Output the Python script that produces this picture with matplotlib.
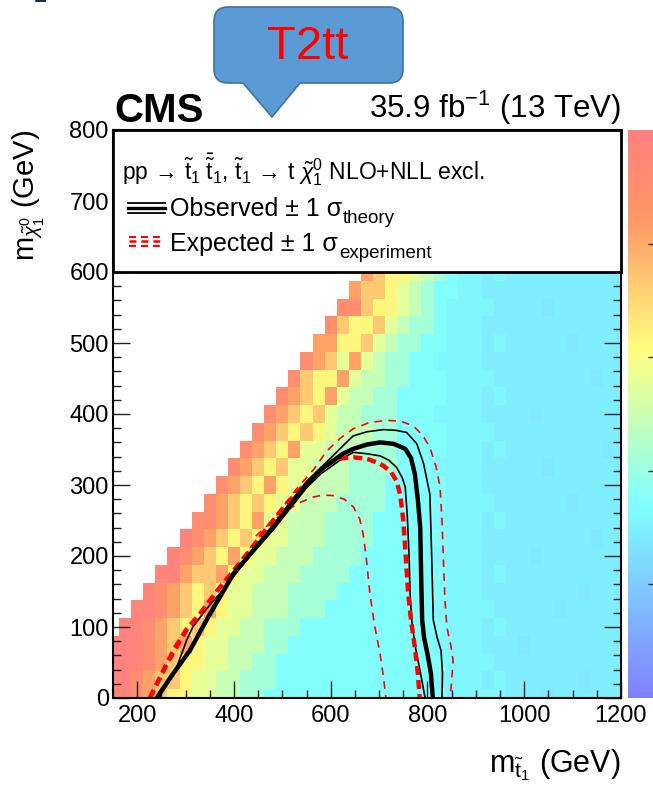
import numpy as np
import matplotlib
matplotlib.use("Agg")
import matplotlib.pyplot as plt
from matplotlib.colors import LinearSegmentedColormap, LogNorm
from matplotlib.patches import Rectangle, PathPatch
from matplotlib.path import Path
from matplotlib.ticker import MultipleLocator, FixedLocator
import matplotlib.cm as cm

plt.rcParams['font.family'] = ['Liberation Sans', 'DejaVu Sans']
plt.rcParams['mathtext.fontset'] = 'custom'
plt.rcParams['mathtext.rm'] = 'Liberation Sans'
plt.rcParams['mathtext.it'] = 'Liberation Sans:italic'
plt.rcParams['mathtext.bf'] = 'Liberation Sans:bold'
plt.rcParams['mathtext.sf'] = 'Liberation Sans'
plt.rcParams['lines.scale_dashes'] = False

# ---------------- data ----------------
STOP_MASS = np.arange(150, 1201, 25)   # bin centres (GeV)
LSP_MASS = np.arange(0, 601, 25)       # bin centres (GeV)

# 95% CL upper limit on the cross section (pb) for each colour code
LIMIT_PB = {'9': 71.0, '8': 33.5, '7': 12.6, '6': 4.7, '5': 1.4, '4': 0.6,
            '3': 0.28, '2': 0.126, '1': 0.053, '0': 0.038, 'a': 0.030, 'b': 0.025}

# one string per LSP-mass row (0 ... 600 GeV), one code per stop-mass column (150 ... 1200)
LIMIT_ROWS = [
    "99 8765 5443 3221 1111 1111 1111 1100 000a aaba aaaa a",
    "99 8766 5443 3222 1111 1111 1111 1000 0a0a aaaa abaa a",
    "99 9876 5544 3322 1111 1111 1111 1100 00aa aaaa aaaa a",
    "99 9876 7544 3332 2111 1111 1111 1000 0aaa baaa aaaa a",
    ".9 9876 5654 4332 2211 1111 1111 1100 0a0a aaaa aaaa a",
    ".. 9987 6575 4433 3222 1111 1111 1000 00aa aaab aaaa a",
    ".. .987 6565 4433 3222 2111 1111 1100 0aaa aaaa abaa a",
    ".. ..99 7667 5443 3322 2211 1111 1100 0a0a aaaa aaaa a",
    ".. ...9 8765 7544 3332 2221 1111 1000 0aaa abaa aaaa a",
    ".. .... 9876 5654 4333 2222 1111 1100 0aaa aaaa aaba a",
    ".. .... .887 6574 4333 2222 1111 1000 0a0a aaaa aaaa a",
    ".. .... ..87 6565 4433 3222 2111 1100 00aa aaaa baaa a",
    ".. .... ...8 7657 5443 3322 2111 1100 0aaa aaaa aaaa a",
    ".. .... .... 8765 6443 3322 2211 1000 0aaa aaba aaaa a",
    ".. .... .... .876 5744 3332 2211 1100 0a0a aaaa aaab a",
    ".. .... .... ..87 6565 4333 2211 1100 00aa aaaa aaaa a",
    ".. .... .... ...8 7656 4332 2211 1000 0aaa abaa aaaa a",
    ".. .... .... .... 8765 7433 2211 1100 0a0a aaaa aaaa a",
    ".. .... .... .... .865 5743 3221 1100 00aa aaaa aaba a",
    ".. .... .... .... ..87 6474 3221 1000 0aaa aaaa aaaa a",
    ".. .... .... .... ...7 7556 4322 1100 0a0a aaaa baaa a",
    ".. .... .... .... .... 8655 6432 2100 0aaa aaaa aaaa a",
    ".. .... .... .... .... .886 5543 2100 00aa aaba aaaa a",
    ".. .... .... .... .... ..76 6543 2110 0aaa aaaa aaaa a",
    ".. .... .... .... .... ...7 6554 3210 0a0a aaaa aaaa a",
]

# exclusion contours (m_stop, m_LSP) in GeV
OBS_X = [240, 275, 309, 350, 399, 440, 481, 515, 550, 580, 605, 625, 647, 675, 702, 730, 754, 766, 774, 780, 785, 787, 789, 793, 800, 807, 811]
OBS_Y = [0, 35, 67, 118, 175, 208, 240, 270, 301, 322, 334, 344, 351, 357, 360, 358, 351, 338, 315, 280, 240, 170, 110, 85, 62, 35, 0]
OBS_UP_X = [245, 280, 302, 315, 336, 355, 371, 400, 440, 480, 515, 550, 600, 646, 675, 709, 735, 757, 778, 792, 805, 809, 812, 820, 828, 831, 830]
OBS_UP_Y = [0, 40, 81, 100, 119, 135, 147, 172, 210, 243, 275, 305, 338, 369, 375, 378, 377, 374, 358, 330, 287, 193, 110, 85, 67, 35, 0]
OBS_DN_X = [243, 278, 309, 350, 399, 440, 481, 515, 550, 580, 605, 625, 647, 675, 702, 720, 736, 748, 754, 758, 762, 764, 768, 776, 787, 795]
OBS_DN_Y = [0, 36, 66, 115, 172, 205, 237, 266, 296, 316, 328, 338, 346, 344, 341, 335, 325, 310, 297, 260, 200, 147, 105, 68, 30, 0]
EXP_X = [226, 250, 275, 300, 330, 370, 412, 460, 509, 540, 564, 585, 605, 625, 647, 674, 695, 709, 725, 736, 744, 750, 755, 760, 766, 774, 780, 784]
EXP_Y = [0, 33, 67, 95, 119, 155, 189, 232, 274, 296, 311, 324, 334, 338, 339, 337, 332, 327, 318, 306, 285, 250, 200, 147, 110, 71, 35, 0]
EXP_UP_X = [229, 262, 300, 350, 420, 480, 530, 565, 592, 620, 646, 680, 716, 745, 771, 790, 805, 818, 826, 830, 833, 836, 840, 848, 853, 850, 847]
EXP_UP_Y = [0, 45, 90, 140, 200, 250, 295, 322, 348, 366, 379, 388, 391, 390, 383, 370, 353, 325, 297, 250, 193, 140, 100, 75, 53, 25, 0]
EXP_DN_X = [445, 461, 485, 509, 535, 564, 585, 605, 628, 647, 660, 667, 673, 681, 690, 702, 709, 714]
EXP_DN_Y = [228, 238, 252, 264, 275, 283, 286, 285, 280, 269, 252, 231, 200, 147, 105, 62, 30, 0]

# ---------------- figure ----------------
W, H = 653, 792
fig = plt.figure(figsize=(W / 100, H / 100), dpi=100)
fig.patch.set_facecolor('white')

AX_L, AX_R, AX_T, AX_B = 113, 621, 130, 698
ax = fig.add_axes([AX_L / W, 1 - AX_B / H, (AX_R - AX_L) / W, (AX_B - AX_T) / H])

stops = [0.00, 0.34, 0.61, 0.84, 1.00]
reds = [0.50, 0.50, 1.00, 1.00, 1.00]
greens = [0.50, 1.00, 1.00, 0.60, 0.50]
blues = [1.00, 1.00, 0.50, 0.40, 0.50]
cmap = LinearSegmentedColormap.from_list(
    'cms', [(s, (r, g, b)) for s, r, g, b in zip(stops, reds, greens, blues)], N=1000)
norm = LogNorm(vmin=1e-3, vmax=1e2)

Z = np.full((len(LSP_MASS), len(STOP_MASS)), np.nan)
for j, row in enumerate(LIMIT_ROWS):
    codes = row.replace(' ', '')
    for i, c in enumerate(codes[:len(STOP_MASS)]):
        if c in LIMIT_PB:
            Z[j, i] = LIMIT_PB[c]
xe = np.append(STOP_MASS - 12.5, STOP_MASS[-1] + 12.5)
ye = np.append(LSP_MASS - 12.5, LSP_MASS[-1] + 12.5)
ax.pcolormesh(xe, ye, np.ma.masked_invalid(Z), cmap=cmap, norm=norm,
              shading='flat', edgecolors='none', antialiased=False, zorder=1)

# contours
ax.plot(OBS_UP_X, OBS_UP_Y, color='black', lw=1.2, zorder=3)
ax.plot(OBS_DN_X, OBS_DN_Y, color='black', lw=1.2, zorder=3)
ax.plot(OBS_X, OBS_Y, color='black', lw=3.2, zorder=4, solid_joinstyle='round')
ax.plot(EXP_UP_X, EXP_UP_Y, color='#ff0000', lw=1.2, dashes=(5.5, 4.5), zorder=3)
ax.plot(EXP_DN_X, EXP_DN_Y, color='#ff0000', lw=1.2, dashes=(5.5, 4.5), zorder=3)
ax.plot(EXP_X, EXP_Y, color='#ff0000', lw=3.2, dashes=(6.5, 3.6), zorder=3.5)

ax.set_xlim(150, 1200)
ax.set_ylim(0, 800)
ax.xaxis.set_major_locator(FixedLocator([200, 400, 600, 800, 1000, 1200]))
ax.xaxis.set_minor_locator(MultipleLocator(50))
ax.yaxis.set_major_locator(MultipleLocator(100))
ax.yaxis.set_minor_locator(MultipleLocator(20))
ax.tick_params(which='both', direction='in', top=True, right=True, width=1.0, color='#222222')
ax.tick_params(which='major', length=12)
ax.tick_params(which='minor', length=6)
ax.tick_params(axis='x', labelsize=17, pad=5)
ax.tick_params(axis='y', labelsize=17, pad=3)
for s in ax.spines.values():
    s.set_linewidth(1.5)
    s.set_zorder(6)

# legend box (white, covers top of plot)
ax.add_patch(Rectangle((150, 600), 1050, 200, facecolor='white', edgecolor='black',
                       lw=2.0, zorder=7, clip_on=False))

# colour bar (cropped by the image edge)
cax = fig.add_axes([628 / W, 1 - AX_B / H, 30 / W, (AX_B - AX_T) / H])
sm = cm.ScalarMappable(norm=norm, cmap=cmap)
cb = fig.colorbar(sm, cax=cax)
cb.outline.set_visible(False)
cb.minorticks_off()
cax.yaxis.set_ticks_position('right')
cax.tick_params(direction='in', length=7, width=1.0, color='#333333', labelright=False)
cb.set_ticks([1e-2, 1e-1, 1, 10])

# ---------------- overlay in pixel coordinates ----------------
ov = fig.add_axes([0, 0, 1, 1], zorder=10)
ov.set_xlim(0, W)
ov.set_ylim(H, 0)
ov.axis('off')

# legend text
ov.text(122, 179, r"pp$\,\rightarrow\,\tilde{\mathrm{t}}_{1}\;\bar{\tilde{\mathrm{t}}}_{1}$, "
        r"$\tilde{\mathrm{t}}_{1}\,\rightarrow\,$t $\tilde{\chi}^{0}_{1}$ NLO+NLL excl.",
        fontsize=16.5, ha='left', va='baseline')
t_obs = ov.text(170, 216, "Observed \u00b1 1 \u03c3", fontsize=18, ha='left', va='baseline')
t_exp = ov.text(170, 251, "Expected \u00b1 1 \u03c3", fontsize=18, ha='left', va='baseline')
fig.canvas.draw()
rend = fig.canvas.get_renderer()
for t, sub in [(t_obs, "theory"), (t_exp, "experiment")]:
    bb = t.get_window_extent(renderer=rend)
    xs = bb.x1 + 1
    yb = t.get_position()[1] + 7
    ov.text(xs, yb, sub, fontsize=13.5, ha='left', va='baseline')
ov.plot([128, 165], [203, 203], color='black', lw=1.3)
ov.plot([128, 165], [208, 208], color='black', lw=2.4)
ov.plot([128, 165], [213, 213], color='black', lw=1.3)
for yy, lw in [(236.5, 1.5), (241, 1.8), (245.5, 1.5)]:
    ov.plot([129, 163], [yy, yy], color='#ff0000', lw=lw, dashes=(5.0, 3.6))

# CMS + lumi
ov.text(114, 122, "CMS", fontsize=29, fontweight='bold', ha='left', va='baseline')
ov.text(621, 118, r"35.9 fb$^{-1}$ (13 TeV)", fontsize=22.5, ha='right', va='baseline')

# axis titles
ov.text(621, 772, r"m$_{\tilde{\mathrm{t}}_{1}}$ (GeV)", fontsize=22, ha='right', va='baseline')
ov.text(29, 130, r"m$_{\tilde{\chi}^{0}_{1}}$ (GeV)", fontsize=21, rotation=90,
        ha='center', va='top')

# callout bubble
x0, x1, y0, y1, r = 214, 403, 7, 83, 14
pl, pr, tip = 243, 300, (272, 117)
verts = [(x0 + r, y0), (x1 - r, y0), (x1, y0), (x1, y0 + r), (x1, y1 - r), (x1, y1), (x1 - r, y1),
         (pr, y1), tip, (pl, y1), (x0 + r, y1), (x0, y1), (x0, y1 - r), (x0, y0 + r), (x0, y0),
         (x0 + r, y0), (x0 + r, y0)]
codes = [Path.MOVETO, Path.LINETO, Path.CURVE3, Path.CURVE3, Path.LINETO, Path.CURVE3, Path.CURVE3,
         Path.LINETO, Path.LINETO, Path.LINETO, Path.LINETO, Path.CURVE3, Path.CURVE3, Path.LINETO,
         Path.CURVE3, Path.CURVE3, Path.CLOSEPOLY]
ov.add_patch(PathPatch(Path(verts, codes), facecolor='#5B9BD5', edgecolor='#41719C', lw=1.2))
ov.text(307.5, 47, "T2tt", color='#ff0000', fontsize=34, ha='center', va='center')

# cropped glyph at the very top-left
ov.text(47, -7, "p", family='DejaVu Serif', fontsize=30, color='#1f2a4a', ha='center', va='baseline',
        clip_on=False)

fig.savefig('out.png', dpi=100, facecolor='white')
